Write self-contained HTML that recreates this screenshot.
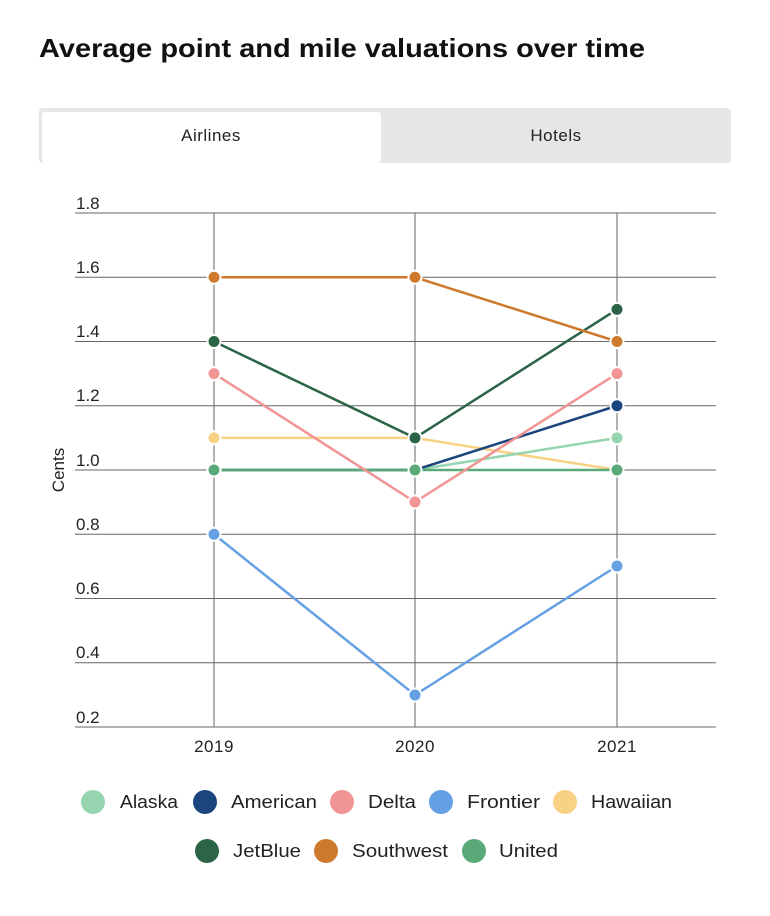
<!DOCTYPE html>
<html><head><meta charset="utf-8"><style>
body{margin:0;background:#fff;width:770px;height:911px;overflow:hidden;font-family:"Liberation Sans",sans-serif}
</style></head><body>
<svg width="770" height="911" xmlns="http://www.w3.org/2000/svg" font-family="Liberation Sans, sans-serif">
<text x="39" y="57" font-size="26" font-weight="bold" fill="#111" textLength="606" lengthAdjust="spacingAndGlyphs">Average point and mile valuations over time</text>
<rect x="39" y="108" width="692" height="55" rx="4" fill="#e6e6e6"/>
<rect x="42" y="112" width="339" height="51" rx="3" fill="#fff"/>
<text x="211" y="141" font-size="17" text-anchor="middle" fill="#222" letter-spacing="0.5">Airlines</text>
<text x="556" y="141" font-size="17" text-anchor="middle" fill="#222" letter-spacing="0.5">Hotels</text>
<g stroke="#666" stroke-width="1">
<line x1="75" x2="716" y1="213" y2="213"/><line x1="75" x2="716" y1="277.25" y2="277.25"/>
<line x1="75" x2="716" y1="341.5" y2="341.5"/><line x1="75" x2="716" y1="405.75" y2="405.75"/>
<line x1="75" x2="716" y1="470" y2="470"/><line x1="75" x2="716" y1="534.25" y2="534.25"/>
<line x1="75" x2="716" y1="598.5" y2="598.5"/><line x1="75" x2="716" y1="662.75" y2="662.75"/>
<line x1="75" x2="716" y1="727" y2="727"/>
<line x1="214" x2="214" y1="213" y2="727"/><line x1="415" x2="415" y1="213" y2="727"/><line x1="617" x2="617" y1="213" y2="727"/>
</g>
<g font-size="17" fill="#222">
<text x="76" y="209">1.8</text><text x="76" y="273">1.6</text><text x="76" y="337">1.4</text><text x="76" y="401">1.2</text>
<text x="76" y="466">1.0</text><text x="76" y="530">0.8</text><text x="76" y="594">0.6</text><text x="76" y="658">0.4</text><text x="76" y="723">0.2</text>
<text x="214" y="752" text-anchor="middle" letter-spacing="0.5">2019</text><text x="415" y="752" text-anchor="middle" letter-spacing="0.5">2020</text><text x="617" y="752" text-anchor="middle" letter-spacing="0.5">2021</text>
<text transform="translate(64,470) rotate(-90)" text-anchor="middle">Cents</text>
</g>
<g fill="none" stroke-width="2.5">
<polyline stroke="#64a0e3" points="214,534.25 415,695 617,566"/>
<polyline stroke="#f8d184" points="214,437.9 415,437.9 617,470"/>
<polyline stroke="#96d5b0" points="214,470 415,470 617,437.9"/>
<polyline stroke="#1b457d" points="214,470 415,470 617,405.75"/>
<polyline stroke="#5aaa79" points="214,470 415,470 617,470"/>
<polyline stroke="#f09593" points="214,373.6 415,502 617,373.6"/>
<polyline stroke="#2b6446" points="214,341.5 415,437.9 617,309.4"/>
<polyline stroke="#cd7a2d" points="214,277.25 415,277.25 617,341.5"/>
</g>
<g stroke="#fff" stroke-width="2">
<circle cx="214" cy="534.25" r="6.5" fill="#64a0e3"/><circle cx="415" cy="695" r="6.5" fill="#64a0e3"/><circle cx="617" cy="566" r="6.5" fill="#64a0e3"/>
<circle cx="214" cy="437.9" r="6.5" fill="#f8d184"/><circle cx="617" cy="437.9" r="6.5" fill="#96d5b0"/>
<circle cx="617" cy="405.75" r="6.5" fill="#1b457d"/>
<circle cx="214" cy="470" r="6.5" fill="#5aaa79"/><circle cx="415" cy="470" r="6.5" fill="#5aaa79"/><circle cx="617" cy="470" r="6.5" fill="#5aaa79"/>
<circle cx="214" cy="373.6" r="6.5" fill="#f09593"/><circle cx="415" cy="502" r="6.5" fill="#f09593"/><circle cx="617" cy="373.6" r="6.5" fill="#f09593"/>
<circle cx="214" cy="341.5" r="6.5" fill="#2b6446"/><circle cx="415" cy="437.9" r="6.5" fill="#2b6446"/><circle cx="617" cy="309.4" r="6.5" fill="#2b6446"/>
<circle cx="214" cy="277.25" r="6.5" fill="#cd7a2d"/><circle cx="415" cy="277.25" r="6.5" fill="#cd7a2d"/><circle cx="617" cy="341.5" r="6.5" fill="#cd7a2d"/>
</g>
<g font-size="18" fill="#222">
<circle cx="93" cy="802" r="12" fill="#96d5b0"/><text x="120" y="808" textLength="58" lengthAdjust="spacingAndGlyphs">Alaska</text>
<circle cx="205" cy="802" r="12" fill="#1b457d"/><text x="231" y="808" textLength="86" lengthAdjust="spacingAndGlyphs">American</text>
<circle cx="342" cy="802" r="12" fill="#f09593"/><text x="368" y="808" textLength="48" lengthAdjust="spacingAndGlyphs">Delta</text>
<circle cx="441" cy="802" r="12" fill="#64a0e3"/><text x="467" y="808" textLength="73" lengthAdjust="spacingAndGlyphs">Frontier</text>
<circle cx="565" cy="802" r="12" fill="#f8d184"/><text x="591" y="808" textLength="81" lengthAdjust="spacingAndGlyphs">Hawaiian</text>
<circle cx="207" cy="851" r="12" fill="#2b6446"/><text x="233" y="857" textLength="68" lengthAdjust="spacingAndGlyphs">JetBlue</text>
<circle cx="326" cy="851" r="12" fill="#cd7a2d"/><text x="352" y="857" textLength="96" lengthAdjust="spacingAndGlyphs">Southwest</text>
<circle cx="474" cy="851" r="12" fill="#5aaa79"/><text x="499" y="857" textLength="59" lengthAdjust="spacingAndGlyphs">United</text>
</g>
</svg>
</body></html>
